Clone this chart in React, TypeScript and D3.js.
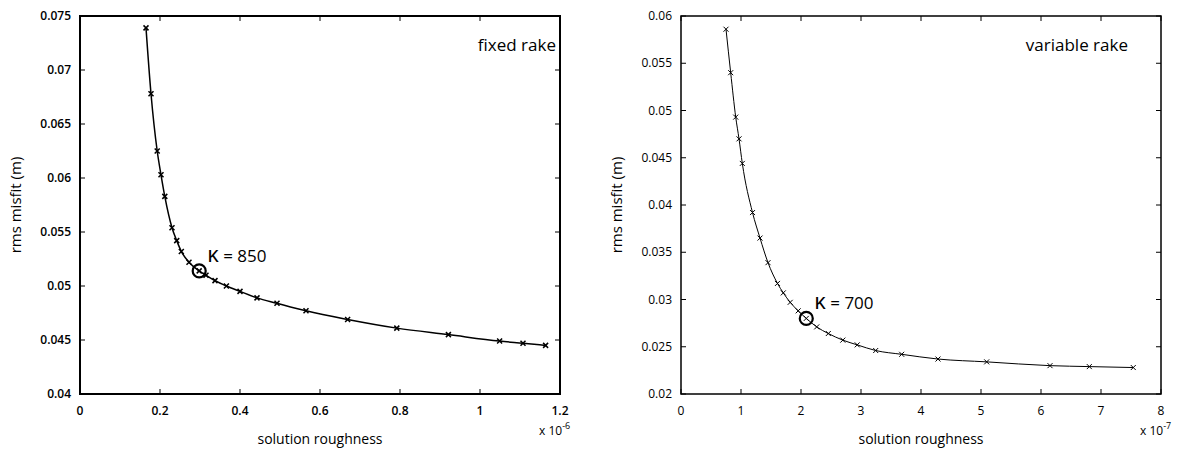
import * as d3 from 'd3';

// fixed rake: solution roughness (x 1e-6) vs rms misfit (m)
const fixedRoughness = [0.165, 0.1775, 0.193, 0.2025, 0.212, 0.23, 0.2418, 0.2533, 0.2725, 0.298, 0.315, 0.3375, 0.366, 0.4, 0.4425, 0.4925, 0.565, 0.669, 0.792, 0.921, 1.049, 1.1075, 1.164];
const fixedMisfit = [0.0739, 0.0678, 0.0625, 0.0603, 0.0583, 0.0554, 0.0542, 0.0532, 0.0522, 0.0514, 0.051, 0.0505, 0.05, 0.0495, 0.0489, 0.0484, 0.0477, 0.0469, 0.0461, 0.0455, 0.0449, 0.0447, 0.0445];
const fixedPick = 9;
const fixedXTicks = [0, 0.2, 0.4, 0.6, 0.8, 1, 1.2];
const fixedXTickLabels = ['0', '0.2', '0.4', '0.6', '0.8', '1', '1.2'];
const fixedYTicks = [0.04, 0.045, 0.05, 0.055, 0.06, 0.065, 0.07, 0.075];
const fixedYTickLabels = ['0.04', '0.045', '0.05', '0.055', '0.06', '0.065', '0.07', '0.075'];

// variable rake: solution roughness (x 1e-7) vs rms misfit (m)
const variableRoughness = [0.75, 0.828, 0.912, 0.967, 1.022, 1.192, 1.317, 1.45, 1.608, 1.705, 1.82, 1.953, 2.088, 2.262, 2.455, 2.697, 2.937, 3.245, 3.678, 4.283, 5.095, 6.15, 6.805, 7.538];
const variableMisfit = [0.0586, 0.054, 0.0493, 0.047, 0.0444, 0.0392, 0.0365, 0.0339, 0.0317, 0.0307, 0.0297, 0.0288, 0.028, 0.0271, 0.0264, 0.0257, 0.0252, 0.0246, 0.0242, 0.0237, 0.0234, 0.023, 0.0229, 0.0228];
const variablePick = 12;
const variableXTicks = [0, 1, 2, 3, 4, 5, 6, 7, 8];
const variableXTickLabels = ['0', '1', '2', '3', '4', '5', '6', '7', '8'];
const variableYTicks = [0.02, 0.025, 0.03, 0.035, 0.04, 0.045, 0.05, 0.055, 0.06];
const variableYTickLabels = ['0.02', '0.025', '0.03', '0.035', '0.04', '0.045', '0.05', '0.055', '0.06'];

const FONT = '"Open Sans", "Noto Sans", sans-serif';
const W = 480;
const H = 378;
const TICK = 5;

type PanelProps = {
  left: number;
  top: number;
  xs: number[];
  ys: number[];
  pick: number;
  kappa: string;
  title: string;
  titleInset: number;
  exponent: string;
  xTicks: number[];
  xTickLabels: string[];
  yTicks: number[];
  yTickLabels: string[];
  bold: boolean;
  weight: number;
};

function Panel(p: PanelProps) {
  const x = d3.scaleLinear().domain([p.xTicks[0], p.xTicks[p.xTicks.length - 1]]).range([0, W]);
  const y = d3.scaleLinear().domain([p.yTicks[0], p.yTicks[p.yTicks.length - 1]]).range([H, 0]);
  const pts = p.xs.map((v, i) => [x(v), y(p.ys[i])] as [number, number]);
  const line = d3.line().curve(d3.curveMonotoneX)(pts) || '';
  const tickWeight = p.bold ? 600 : 400;
  const cx = pts[p.pick][0];
  const cy = pts[p.pick][1];

  return (
    <g transform={`translate(${p.left},${p.top})`} fontFamily={FONT}>
      {p.xTicks.map((t, i) => (
        <g key={'x' + i}>
          <line x1={x(t)} x2={x(t)} y1={H} y2={H - TICK} stroke="#000" strokeWidth={1} />
          <line x1={x(t)} x2={x(t)} y1={0} y2={TICK} stroke="#000" strokeWidth={1} />
          <text x={x(t)} y={H + 21} textAnchor="middle" fontSize={12} fontWeight={tickWeight}>
            {p.xTickLabels[i]}
          </text>
        </g>
      ))}
      {p.yTicks.map((t, i) => (
        <g key={'y' + i}>
          <line x1={0} x2={TICK} y1={y(t)} y2={y(t)} stroke="#000" strokeWidth={1} />
          <line x1={W} x2={W - TICK} y1={y(t)} y2={y(t)} stroke="#000" strokeWidth={1} />
          <text x={-9} y={y(t)} dy="0.35em" textAnchor="end" fontSize={12} fontWeight={tickWeight}>
            {p.yTickLabels[i]}
          </text>
        </g>
      ))}
      <rect x={0} y={0} width={W} height={H} fill="none" stroke="#000" strokeWidth={p.weight + 0.5} />
      <path d={line} fill="none" stroke="#000" strokeWidth={p.weight} />
      {pts.map(([px, py], i) => (
        <path key={'m' + i} d={`M${px - 2.5},${py - 2.5}L${px + 2.5},${py + 2.5}M${px - 2.5},${py + 2.5}L${px + 2.5},${py - 2.5}`} stroke="#000" strokeWidth={p.weight} />
      ))}
      <circle cx={cx} cy={cy} r={6.5} fill="none" stroke="#000" strokeWidth={2.2} />
      <text x={cx + 8} y={cy - 9} fontSize={17}>
        <tspan fontSize={22}>κ</tspan>{p.kappa}
      </text>
      <text x={W - p.titleInset} y={35} textAnchor="end" fontSize={17}>
        {p.title}
      </text>
      <text x={W / 2} y={H + 50} textAnchor="middle" fontSize={14}>
        solution roughness
      </text>
      <text x={W - 21} y={H + 41} fontSize={12}>
        x 10<tspan dy={-6} fontSize={9}>{p.exponent}</tspan>
      </text>
      <text transform={`translate(-59,${H / 2}) rotate(-90)`} textAnchor="middle" fontSize={15}>
        rms misfit (m)
      </text>
    </g>
  );
}

export default function App() {
  return (
    <svg
      width={1185}
      height={453}
      viewBox="0 0 1185 453"
      style={{ position: 'absolute', left: 0, top: 0, background: '#fff' }}
    >
      <rect width={1185} height={453} fill="#fff" />
      <Panel
        left={80}
        top={16}
        xs={fixedRoughness}
        ys={fixedMisfit}
        pick={fixedPick}
        kappa=" = 850"
        title="fixed rake"
        titleInset={4}
        exponent="-6"
        xTicks={fixedXTicks}
        xTickLabels={fixedXTickLabels}
        yTicks={fixedYTicks}
        yTickLabels={fixedYTickLabels}
        bold={true}
        weight={1.5}
      />
      <Panel
        left={681}
        top={16}
        xs={variableRoughness}
        ys={variableMisfit}
        pick={variablePick}
        kappa=" = 700"
        title="variable rake"
        titleInset={33}
        exponent="-7"
        xTicks={variableXTicks}
        xTickLabels={variableXTickLabels}
        yTicks={variableYTicks}
        yTickLabels={variableYTickLabels}
        bold={false}
        weight={1}
      />
    </svg>
  );
}
